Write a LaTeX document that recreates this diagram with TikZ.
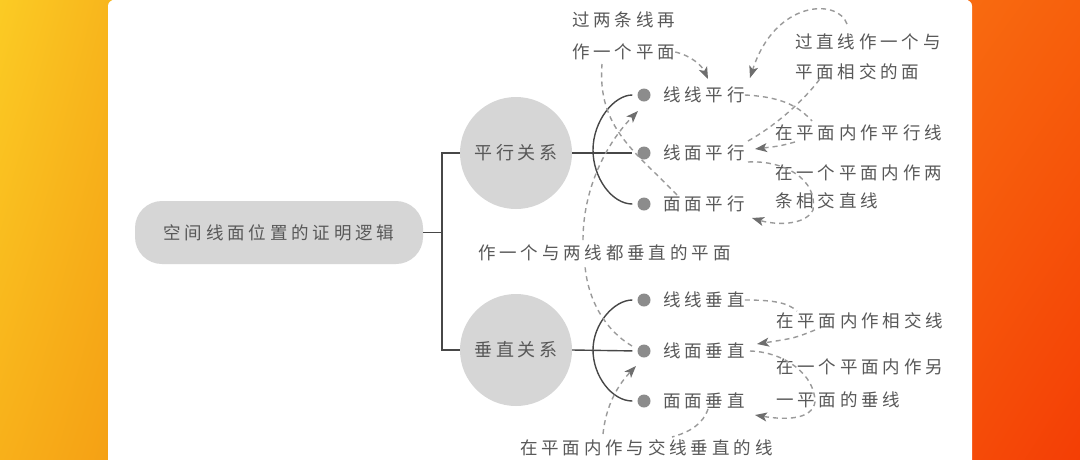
\documentclass[tikz,border=0pt]{standalone}
\usepackage{fontspec}
\newfontfamily\cjk{Noto Sans CJK SC}[LetterSpace=22]
\usetikzlibrary{arrows.meta,shadings}
\definecolor{txt}{HTML}{585858}
\definecolor{nodegray}{HTML}{D6D6D6}
\definecolor{dotgray}{HTML}{8C8C8C}
\definecolor{linegray}{HTML}{474747}
\definecolor{dashgray}{HTML}{9A9A9A}
\definecolor{arrowgray}{HTML}{6E6E6E}
\definecolor{yA}{HTML}{FBCB24}
\definecolor{yB}{HTML}{F8B51C}
\definecolor{yC}{HTML}{F8B01A}
\definecolor{yD}{HTML}{F5A014}
\definecolor{rA}{HTML}{F86B10}
\definecolor{rB}{HTML}{F7600C}
\definecolor{rC}{HTML}{F54B08}
\definecolor{rD}{HTML}{F43E05}
\begin{document}
\begin{tikzpicture}[x=1pt,y=-1pt,
  lbl/.style={inner sep=0pt, anchor=west, text=txt, font=\cjk\fontsize{17.5}{20}\selectfont},
  rootbox/.style={rectangle, rounded corners=27pt, fill=nodegray, minimum width=288pt, minimum height=63pt, inner sep=0pt, text=txt, font=\cjk\fontsize{17.5}{20}\selectfont},
  bubble/.style={circle, fill=nodegray, minimum size=112pt, inner sep=0pt, text=txt, font=\cjk\fontsize{18}{20}\selectfont},
  dotn/.style={circle, fill=dotgray, minimum size=13pt, inner sep=0pt},
  conn/.style={draw=linegray, line width=1.4pt},
  dl/.style={draw=dashgray, line width=1.4pt, dash pattern=on 5pt off 4pt},
  arr/.style={-{Stealth[length=12pt,width=9pt,inset=3pt,color=arrowgray]}}
]
\useasboundingbox (0,0) rectangle (1080,459);
% background
\shade[upper left=yA, upper right=yB, lower left=yC, lower right=yD] (0,0) rectangle (112,459);
\shade[upper left=rA, upper right=rB, lower left=rC, lower right=rD] (968,0) rectangle (1080,459);
\fill[white, rounded corners=6pt] (108,470) -- (108,0) -- (972,0) -- (972,470) -- cycle;

% main nodes
\node[rootbox] (root) at (279,232.5) {空间线面位置的证明逻辑};
\node[bubble] (c1) at (516,153) {平行关系};
\node[bubble] (c2) at (516,350) {垂直关系};
\coordinate (br) at (442,232.5);
\draw[conn] (root.east) -- (br);
\draw[conn] (c1.west) -| (br) |- (c2.west);

% dots
\node[dotn] (d11) at (644,95) {};
\node[dotn] (d12) at (644,153) {};
\node[dotn] (d13) at (644,204) {};
\node[dotn] (d21) at (644,300) {};
\node[dotn] (d22) at (644,351) {};
\node[dotn] (d23) at (644,401) {};
\draw[conn, shorten >=5pt] (c1.east) -- (d12.west);
\draw[conn, shorten >=5pt] (c2.east) -- (d22.west);
\draw[conn, shorten <=5pt, shorten >=5pt] (d11.west) .. controls (614,95) and (593,121) .. (593,150) .. controls (593,178) and (612,204) .. (d13.west);
\draw[conn, shorten <=5pt, shorten >=5pt] (d21.west) .. controls (614,300) and (593,324) .. (593,350) .. controls (593,376) and (612,401) .. (d23.west);

% leaf labels
\node[lbl] (t11) at (663,95) {线线平行};
\node[lbl] (t12) at (663,153) {线面平行};
\node[lbl] (t13) at (663,204) {面面平行};
\node[lbl] (t21) at (663,300) {线线垂直};
\node[lbl] (t22) at (663,351) {线面垂直};
\node[lbl] (t23) at (663,401) {面面垂直};

% annotations
\node[lbl] (a1a) at (572,20) {过两条线再};
\node[lbl] (a1b) at (572,52) {作一个平面};
\node[lbl] (a2a) at (795,42) {过直线作一个与};
\node[lbl] (a2b) at (795,72) {平面相交的面};
\node[lbl] (a3) at (775,133) {在平面内作平行线};
\node[lbl] (a4a) at (775,173) {在一个平面内作两};
\node[lbl] (a4b) at (775,201) {条相交直线};
\node[lbl] (a5) at (478,253) {作一个与两线都垂直的平面};
\node[lbl] (a6) at (776,321) {在平面内作相交线};
\node[lbl] (a7a) at (776,367) {在一个平面内作另};
\node[lbl] (a7b) at (776,400) {一平面的垂线};
\node[lbl] (a8) at (520,448) {在平面内作与交线垂直的线};

% connector end points
\coordinate (p1s) at (677,195);
\coordinate (p1e) at (602,64);
\coordinate (p1t) at (708,79);
\coordinate (p2s) at (748,141);
\coordinate (p2m) at (822,76);
\coordinate (p2u) at (847,24);
\coordinate (p2t) at (750,78);
\coordinate (p3e) at (812,121);
\coordinate (p3s) at (795,142);
\coordinate (p3t) at (755,149);
\coordinate (p4s) at (748,162);
\coordinate (p4m) at (813,210);
\coordinate (p4t) at (752,218);
\coordinate (p5s) at (632,346);
\coordinate (p5m) at (585,266);
\coordinate (p5u) at (583,240);
\coordinate (p5t) at (638,111);
\coordinate (p6e) at (797,311);
\coordinate (p6s) at (815,330);
\coordinate (p6t) at (757,344);
\coordinate (p7s) at (750,351);
\coordinate (p7m) at (815,402);
\coordinate (p7t) at (755,415);
\coordinate (p8s) at (708,409);
\coordinate (p8m) at (672,437);
\coordinate (p8u) at (603,434);
\coordinate (p8t) at (636,366);

% dashed connectors
\draw[dl] (p1s) .. controls (636,152) and (597,128) .. (p1e);
\draw[dl,arr] (a1b.east) .. controls (692,56) and (702,66) .. (p1t);

\draw[dl] (p2s) .. controls (775,126) and (805,100) .. (p2m);
\draw[dl,arr] (p2u) .. controls (838,-2) and (775,0) .. (p2t);

\draw[dl] (t11.east) .. controls (785,97) and (800,108) .. (p3e);
\draw[dl,arr] (p3s) .. controls (780,146) .. (p3t);

\draw[dl,arr] (p4s) .. controls (785,160) and (818,180) .. (p4m) .. controls (805,226) and (775,225) .. (p4t);

\draw[dl] (p5s) .. controls (605,330) and (588,300) .. (p5m);
\draw[dl,arr] (p5u) .. controls (583,190) and (605,145) .. (p5t);

\draw[dl] (t21.east) .. controls (775,300) and (788,303) .. (p6e);
\draw[dl,arr] (p6s) .. controls (795,338) .. (p6t);

\draw[dl,arr] (p7s) .. controls (785,352) and (815,375) .. (p7m) .. controls (812,420) and (785,420) .. (p7t);

\draw[dl] (p8s) .. controls (703,424) and (690,432) .. (p8m);
\draw[dl,arr] (p8u) .. controls (606,405) and (618,385) .. (p8t);
\end{tikzpicture}
\end{document}
